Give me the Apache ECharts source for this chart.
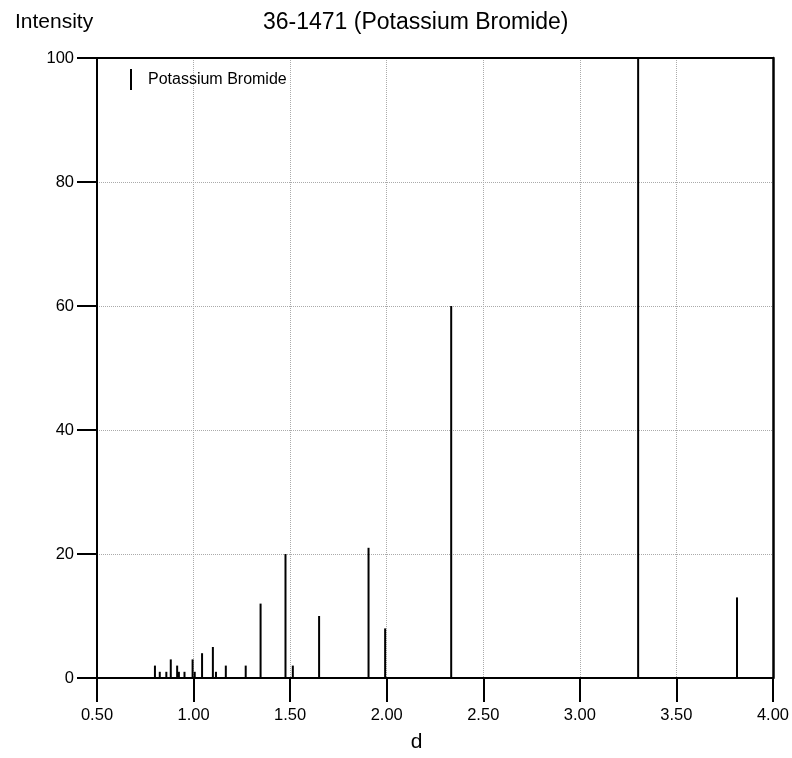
<!DOCTYPE html>
<html>
<head>
<meta charset="utf-8">
<script src="https://cdn.jsdelivr.net/npm/echarts@6/dist/echarts.min.js"></script>
<style>
html,body{margin:0;padding:0;background:#fff;}
#chart{width:792px;height:758px;}
</style>
</head>
<body>
<div id="chart"></div>
<script>
const titleText = "36-1471 (Potassium Bromide)";
const seriesName = "Potassium Bromide";
const dSpacing = [3.814, 3.302, 2.334, 1.992, 1.906, 1.650, 1.514, 1.476, 1.347, 1.270, 1.167, 1.116, 1.100, 1.044, 1.006, 0.995, 0.953, 0.924, 0.915, 0.882, 0.859, 0.825, 0.800];
const intensity = [13, 100, 60, 8, 21, 10, 2, 20, 12, 2, 2, 1, 5, 4, 1, 3, 1, 1, 2, 3, 1, 1, 2];
const xTicks = [0.5, 1.0, 1.5, 2.0, 2.5, 3.0, 3.5, 4.0];
const yTicks = [0, 20, 40, 60, 80, 100];

const data = dSpacing.map((d, i) => [d, intensity[i]]);
const font = "Arial, 'Liberation Sans', sans-serif";
const xMin = xTicks[0], xMax = xTicks[xTicks.length - 1];
const yMin = yTicks[0], yMax = yTicks[yTicks.length - 1];

const chart = echarts.init(document.getElementById('chart'), null, {renderer: 'canvas'});
chart.setOption({
  animation: false,
  backgroundColor: '#fff',
  title: [
    {text: titleText, left: 258, top: 6, textStyle: {fontFamily: font, fontSize: 23, fontWeight: 'normal', color: '#000'}},
    {text: 'Intensity', left: 10, top: 7, textStyle: {fontFamily: font, fontSize: 21, fontWeight: 'normal', color: '#000'}}
  ],
  legend: {
    data: [{name: seriesName, icon: 'rect'}],
    left: 125, top: 64,
    itemWidth: 2, itemHeight: 21,
    textStyle: {fontFamily: font, fontSize: 16, color: '#000', padding: [0, 0, 0, 11]},
    selectedMode: false
  },
  grid: {left: 97, right: 18, top: 58, bottom: 72},
  xAxis: [{
    type: 'value', min: xMin, max: xMax, interval: 0.5,
    name: 'd', nameLocation: 'middle', nameGap: 54,
    nameTextStyle: {fontFamily: font, fontSize: 21, color: '#000', padding: [0, 37, 0, 0]},
    axisLine: {show: true, onZero: false, lineStyle: {color: '#000', width: 2}},
    axisTick: {show: true, inside: false, length: 24, lineStyle: {color: '#000', width: 2}},
    axisLabel: {fontFamily: font, fontSize: 16.5, color: '#000', margin: 29, formatter: v => v.toFixed(2)},
    splitLine: {show: true, lineStyle: {color: '#aaa', width: 1, type: [1, 1]}}
  }, {
    type: 'value', min: xMin, max: xMax, position: 'top',
    axisLine: {show: true, onZero: false, lineStyle: {color: '#000', width: 2}},
    axisTick: {show: false}, axisLabel: {show: false}, splitLine: {show: false}
  }],
  yAxis: [{
    type: 'value', min: yMin, max: yMax, interval: 20,
    axisLine: {show: true, onZero: false, lineStyle: {color: '#000', width: 2}},
    axisTick: {show: true, inside: false, length: 20, lineStyle: {color: '#000', width: 2}},
    axisLabel: {fontFamily: font, fontSize: 16.5, color: '#000', margin: 23},
    splitLine: {show: true, lineStyle: {color: '#aaa', width: 1, type: [1, 1]}}
  }, {
    type: 'value', min: yMin, max: yMax, position: 'right',
    axisLine: {show: true, onZero: false, lineStyle: {color: '#000', width: 2.5}},
    axisTick: {show: false}, axisLabel: {show: false}, splitLine: {show: false}
  }],
  series: [{
    name: seriesName,
    type: 'custom',
    xAxisIndex: 0, yAxisIndex: 0,
    itemStyle: {color: '#000'},
    data: data,
    encode: {x: 0, y: 1},
    renderItem: function (params, api) {
      const p0 = api.coord([api.value(0), 0]);
      const p1 = api.coord([api.value(0), api.value(1)]);
      return {
        type: 'line',
        shape: {x1: p0[0], y1: p0[1], x2: p1[0], y2: p1[1]},
        style: {stroke: '#000', lineWidth: 2}
      };
    },
    z: 5
  }]
});
</script>
</body>
</html>
